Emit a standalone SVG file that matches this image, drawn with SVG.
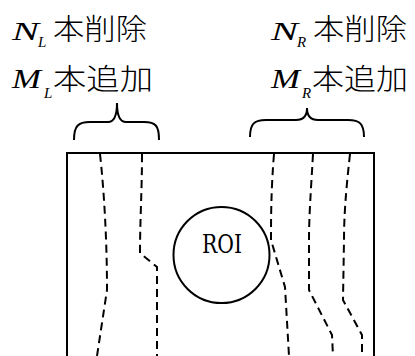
<svg xmlns="http://www.w3.org/2000/svg" width="415" height="356" viewBox="0 0 415 356">
<style>
.v{font-family:"Liberation Serif","Times New Roman",serif;font-style:italic;fill:#000}
.k{font-family:"Noto Sans CJK JP","Noto Sans CJK SC",sans-serif;font-size:29px;font-weight:300;fill:#000}
.r{font-family:"DejaVu Serif","Liberation Serif",serif;font-size:26px;fill:#000}
.d{fill:none;stroke:#000;stroke-width:2;stroke-dasharray:8 5}
.s{fill:none;stroke:#000;stroke-width:2}
</style>
<rect width="415" height="356" fill="#fff"/>
<g id="labelL">
<text class="v" x="12" y="40" font-size="26" textLength="27" lengthAdjust="spacingAndGlyphs">N</text>
<text class="v" x="38" y="47" font-size="15">L</text>
<text class="k" x="53" y="40" textLength="94" lengthAdjust="spacingAndGlyphs">本削除</text>
<text class="v" x="12" y="88" font-size="27" textLength="29" lengthAdjust="spacingAndGlyphs">M</text>
<text class="v" x="44" y="98" font-size="15">L</text>
<text class="k" x="53" y="90" textLength="100" lengthAdjust="spacingAndGlyphs">本追加</text>
</g>
<g id="labelR">
<text class="v" x="271" y="40" font-size="26" textLength="27" lengthAdjust="spacingAndGlyphs">N</text>
<text class="v" x="297" y="47" font-size="15">R</text>
<text class="k" x="313" y="40" textLength="94" lengthAdjust="spacingAndGlyphs">本削除</text>
<text class="v" x="271" y="88" font-size="27" textLength="29" lengthAdjust="spacingAndGlyphs">M</text>
<text class="v" x="302" y="98" font-size="15">R</text>
<text class="k" x="312" y="90" textLength="96" lengthAdjust="spacingAndGlyphs">本追加</text>
</g>
<g id="braces">
<path class="s" d="M74,140 C74,126 78,122 90,122 L108,122 C114,122 117,116 117,103 C117,116 120,122 126,122 L144,122 C156,122 159,126 159,140"/>
<path class="s" d="M250,137 C250,124 254,120 266,120 L296,120 C303,120 307,116 307,108 C307,116 311,120 318,120 L348,120 C360,120 364,124 364,137"/>
</g>
<g id="frame">
<path class="s" d="M67,356 L67,153 L374,153 L374,356"/>
</g>
<g id="roi">
<circle class="s" cx="221.5" cy="255" r="48"/>
<text class="r" x="222" y="253" text-anchor="middle" textLength="40" lengthAdjust="spacingAndGlyphs">ROI</text>
</g>
<g id="connectors">
<path class="d" d="M100,154 C104,190 107,240 107,290 L97,356"/>
<path class="d" d="M142,154 C142,190 140,220 140,253 L157,267 L157,356"/>
<path class="d" d="M274,154 C271,190 271,220 271,240 L285,287 L289,356"/>
<path class="d" d="M313,154 C311,190 309,215 309,240 L309,290 L332,335 L333,356"/>
<path class="d" d="M350,154 C346,190 344,215 344,240 L343,300 L362,335 L362,356"/>
</g>
</svg>
